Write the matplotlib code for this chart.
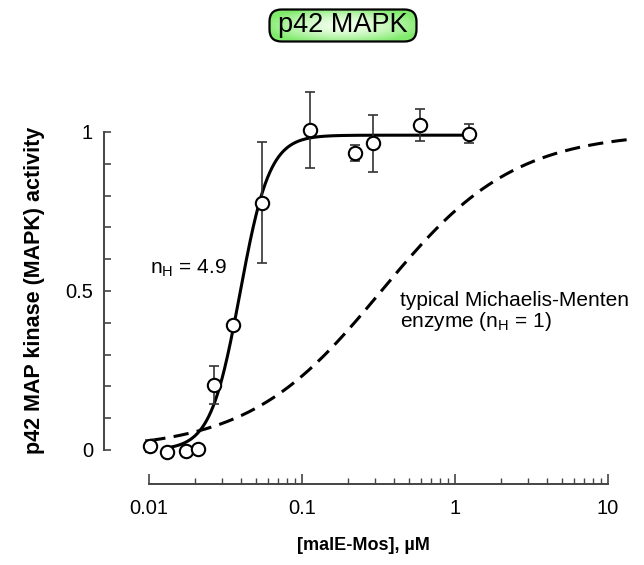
import numpy as np
import matplotlib
matplotlib.use("Agg")
import matplotlib.pyplot as plt
from matplotlib.patches import FancyBboxPatch

plt.rcParams['font.family'] = ['Liberation Sans', 'DejaVu Sans']
plt.rcParams['mathtext.fontset'] = 'custom'
plt.rcParams['mathtext.rm'] = 'Liberation Sans'
plt.rcParams['mathtext.it'] = 'Liberation Sans:italic'
plt.rcParams['mathtext.bf'] = 'Liberation Sans:bold'
plt.rcParams['lines.scale_dashes'] = False

# ---- data ----
conc = [0.0102, 0.0131, 0.0175, 0.0209, 0.0266, 0.0354, 0.0548, 0.113, 0.222, 0.291, 0.59, 1.23]
activity = [0.013, -0.005, -0.003, 0.003, 0.204, 0.393, 0.777, 1.006, 0.934, 0.965, 1.022, 0.994]
errors = [0.018, 0.0, 0.0, 0.0, 0.06, 0.0, 0.19, 0.12, 0.026, 0.09, 0.05, 0.03]

# fitted Hill curve (n_H = 4.9 label) and Michaelis-Menten curve (n_H = 1)
hill_K, hill_n, hill_max = 0.0394, 4.5, 0.99
hill_range = (0.0131, 1.23)
mm_K = 0.33
mm_range = (0.0102, 13.5)

xticks = [0.01, 0.1, 1, 10]
xticklabels = ['0.01', '0.1', '1', '10']
xminor = [m * d for d in (0.01, 0.1, 1) for m in range(2, 10)]
yticks = [0, 0.5, 1]
yticklabels = ['0', '0.5', '1']

# ---- figure ----
W, H = 644, 565
fig = plt.figure(figsize=(W / 100, H / 100), dpi=100)
ax_left, ax_right, ax_top, ax_bottom = 104, 640, 68.4, 484
ax = fig.add_axes([ax_left / W, 1 - ax_bottom / H, (ax_right - ax_left) / W, (ax_bottom - ax_top) / H])
ax.set_xscale('log')
ax.set_xlim(10 ** (-2 - 45 / 153), 10 ** (-2 + (ax_right - 149) / 153))
ax.set_ylim(-0.107, 1.2)

hx = np.logspace(np.log10(hill_range[0]), np.log10(hill_range[1]), 400)
hy = hill_max * hx ** hill_n / (hill_K ** hill_n + hx ** hill_n)
ax.plot(hx, hy, color='black', lw=2.2, zorder=3)

mx = np.logspace(np.log10(mm_range[0]), np.log10(mm_range[1]), 400)
my = mx / (mm_K + mx)
ax.plot(mx, my, color='black', lw=2.2, dashes=(11, 6), zorder=3)

ax.errorbar(conc, activity, yerr=errors, fmt='none', ecolor='#333333',
            elinewidth=1.2, capsize=3.8, capthick=1.2, zorder=4)
ax.plot(conc, activity, 'o', ms=9.6, mfc='white', mec='black', mew=1.5, zorder=5)

# axes styling
for s in ['top', 'right']:
    ax.spines[s].set_visible(False)
ax.spines['left'].set_bounds(0, 1)
ax.spines['bottom'].set_bounds(0.01, 10)
for s in ['left', 'bottom']:
    ax.spines[s].set_color('#444444')
    ax.spines[s].set_linewidth(1.4)

ax.set_xticks(xticks)
ax.set_xticklabels(xticklabels)
ax.xaxis.set_minor_locator(matplotlib.ticker.FixedLocator(xminor))
ax.xaxis.set_minor_formatter(matplotlib.ticker.NullFormatter())
ax.set_yticks(yticks)
ax.set_yticklabels(yticklabels)
ax.set_yticks(np.round(np.arange(0, 1.01, 0.1), 2), minor=True)

ax.tick_params(axis='x', which='major', direction='in', length=7, width=1.2, color='#444444',
               labelsize=14.5, pad=11)
ax.tick_params(axis='x', which='minor', direction='in', length=4, width=1.0, color='#444444')
ax.tick_params(axis='y', which='both', direction='in', length=5, width=1.2, color='#444444',
               labelsize=14.5, pad=8)

ax.set_xlabel('[malE-Mos], µM', fontsize=13, fontweight='bold')
ax.xaxis.set_label_coords((363 - ax_left) / (ax_right - ax_left), -(545 - ax_bottom) / (ax_bottom - ax_top))
ax.xaxis.label.set_va('center')
ax.set_ylabel('p42 MAP kinase (MAPK) activity', fontsize=15.5, fontweight='bold')
ax.yaxis.set_label_coords((35 - ax_left) / (ax_right - ax_left), (ax_bottom - 290) / (ax_bottom - ax_top))
ax.yaxis.label.set_va('center')

ax.text(0.0102, 0.572, r'n$_{\mathrm{H}}$ = 4.9', fontsize=15, ha='left', va='center')
ax.text(0.438, 0.434, 'typical Michaelis-Menten\nenzyme (n$_{\\mathrm{H}}$ = 1)', fontsize=15,
        ha='left', va='center', linespacing=1.0)

# ---- title box with green gradient ----
bx0, by0, bw, bh = 268, 8, 150, 35
tax = fig.add_axes([bx0 / W, 1 - (by0 + bh) / H, bw / W, bh / H])
tax.set_xlim(0, bw)
tax.set_ylim(0, bh)
tax.axis('off')
gx, gy = np.meshgrid(np.linspace(-1, 1, 300), np.linspace(-1, 1, 80))
r = np.clip(np.sqrt(gx ** 2 * 0.9 + gy ** 2 * 0.9), 0, 1)
c_center = np.array([0.95, 1.0, 0.93])
c_edge = np.array([0.50, 0.92, 0.42])
t = r[..., None] ** 1.6
img = c_center * (1 - t) + c_edge * t
patch = FancyBboxPatch((1.5, 1.5), bw - 3, bh - 3, boxstyle='round,pad=0,rounding_size=12',
                       facecolor='none', edgecolor='black', lw=1.6)
im = tax.imshow(img, extent=(0, bw, 0, bh), aspect='auto', zorder=1)
clip = FancyBboxPatch((1.5, 1.5), bw - 3, bh - 3, boxstyle='round,pad=0,rounding_size=12',
                      transform=tax.transData, facecolor='none', edgecolor='none')
tax.add_patch(clip)
im.set_clip_path(clip)
tax.add_patch(patch)
tax.text(bw / 2, bh / 2, 'p42 MAPK', fontsize=19.5, ha='center', va='center', zorder=3)

fig.savefig('out.png', dpi=100)
